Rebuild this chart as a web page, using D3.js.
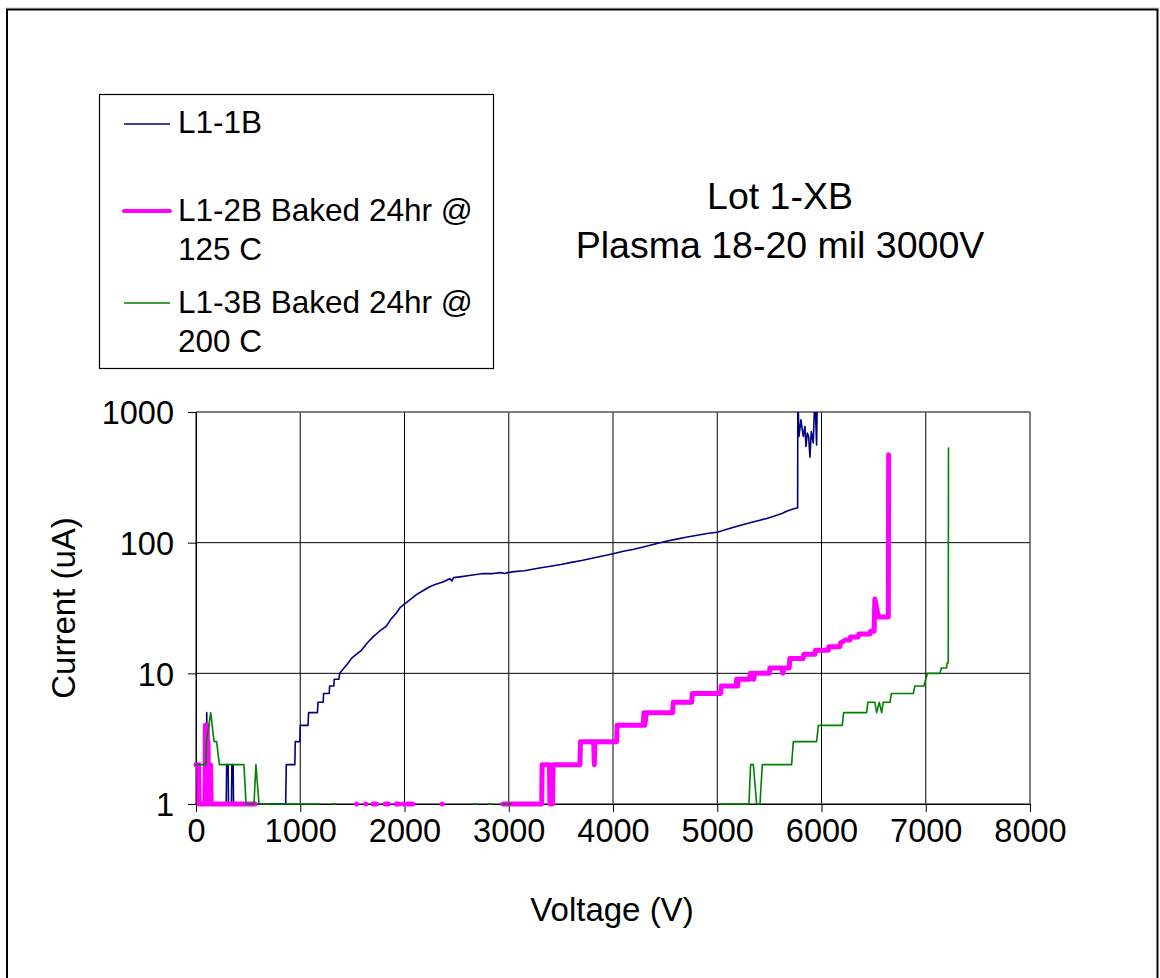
<!DOCTYPE html>
<html>
<head>
<meta charset="utf-8">
<script src="https://cdn.jsdelivr.net/npm/d3@7"></script>
<style>
  html, body { margin: 0; padding: 0; background: #fff; }
  svg { display: block; }
  text { font-family: "Liberation Sans", Arial, sans-serif; fill: #000; }
</style>
</head>
<body>
<svg id="chart" width="1160" height="978"></svg>
<script>
// Breakdown sweeps: [voltage (V), current (uA)]. A current of 0 means no reading
// above the 1 uA floor, so that point is left out of the log plot.
const l11b = [
  [0,1],[98,1],[103,5],[108,1],[290,1],[294,2],[308,2],[312,1],[340,1],[344,2],[356,2],[360,1],
  [860,1],[866,2],[948,2],[952,3],[996,3],[1000,4],[1075,4],[1080,5],[1165,5],[1170,6],
  [1220,6],[1224,7],[1278,7],[1282,8],[1322,8],[1326,9],[1370,9],[1379,10],[1420,11],[1460,12],
  [1491,13],[1540,14],[1587,15],[1640,17],[1698,19],[1760,21],[1826,23],[1870,26],[1922,29],
  [1960,32],[2002,34],[2060,37],[2114,40],[2180,43],[2241,46],[2300,48],[2369,50],[2433,53],
  [2455,51],[2470,54],[2550,55],[2620,56],[2689,57],[2760,58],[2850,58],[2920,59],[2960,58],
  [2991,59],[3050,60],[3150,61],[3295,64],[3400,66],[3500,68],[3614,71],[3700,73],[3800,76],
  [3900,79],[3991,82],[4100,86],[4200,89],[4300,93],[4413,98],[4500,102],[4600,106],[4700,110],
  [4834,115],[4920,118],[5000,120],[5100,127],[5200,134],[5314,142],[5400,148],[5474,153],
  [5550,160],[5620,167],[5666,174],[5720,180],[5762,184],[5771,184],[5773,1400],[5784,650],
  [5803,870],[5825,650],[5841,775],[5851,545],[5864,690],[5877,650],[5889,450],[5902,710],
  [5921,580],[5937,1400],[5953,560],[5960,1400]
];

const l12b = [
  [0,2],[25,2],[30,1],[86,1],[90,4],[95,1],[100,4],[104,2],[108,4],[112,1],[116,3],[120,1],
  [126,2],[130,1],[140,2],[146,1],[566,1],[600,0],
  [1541,1],[1590,0],[1630,1],[1670,0],[1700,1],[1730,1],[1770,0],[1815,1],[1845,1],[1880,0],
  [1920,1],[1945,1],[1970,0],[1990,1],[2010,0],[2030,1],[2078,1],[2200,0],[2362,1],[2500,0],
  [2945,1],[3316,1],[3320,2],[3390,2],[3395,1],[3420,1],[3425,2],[3683,2],[3688,3],[3815,3],
  [3821,2],[3827,3],[4035,3],[4040,4],[4290,4],[4297,5],[4305,4],[4320,5],[4572,5],[4578,6],
  [4754,6],[4760,7],[5032,7],[5038,8],[5180,8],[5186,9],[5195,8],[5205,9],[5310,9],[5316,10],
  [5340,10],[5350,9],[5360,10],[5500,10],[5505,11],[5620,11],[5630,10],[5640,11],[5691,11],
  [5696,13],[5825,13],[5830,14],[5937,14],[5942,15],[6065,15],[6070,16],[6177,16],[6182,17],
  [6230,18],[6273,18],[6278,19],[6353,19],[6358,20],[6465,20],[6470,21],[6505,21],[6512,37],
  [6545,27],[6641,27],[6644,470]
];

const l13b = [
  [0,2],[96,2],[100,3],[141,5],[173,3],[198,3],[224,2],[460,2],[480,1],[556,1],[575,2],[604,1],
  [1173,1],[1200,0],[1301,1],[1333,1],[1400,0],[2660,1],[2692,1],[2750,0],[2803,1],[2851,1],
  [2900,0],[2948,1],[3028,1],[3100,0],
  [5026,1],[5304,1],[5320,2],[5346,2],[5378,1],[5410,1],[5432,2],[5713,2],[5730,3],[5953,3],
  [5970,4],[6199,4],[6212,5],[6433,5],[6445,6],[6512,6],[6529,5],[6554,6],[6577,5],[6592,6],
  [6657,6],[6670,7],[6880,7],[6896,8],[6983,8],[7000,9],[7018,10],[7136,10],[7150,11],
  [7200,11],[7205,12],[7216,12],[7218,530]
];

const xTicks = [0, 1000, 2000, 3000, 4000, 5000, 6000, 7000, 8000];
const yTicks = [1, 10, 100, 1000];
const titleLines = ["Lot 1-XB", "Plasma 18-20 mil 3000V"];
const legendLabels = [
  ["L1-1B"],
  ["L1-2B Baked 24hr @", "125 C"],
  ["L1-3B Baked 24hr @", "200 C"]
];

const series = [
  { data: l11b, color: "#000080", width: 1.6 },
  { data: l12b, color: "#FF00FF", width: 5 },
  { data: l13b, color: "#008000", width: 1.6 }
];

const svg = d3.select("#chart");
const plot = { left: 196, right: 1030, top: 412, bottom: 804 };

const x = d3.scaleLinear().domain([0, 8000]).range([plot.left, plot.right]);
const y = d3.scaleLog().domain([1, 1000]).range([plot.bottom, plot.top]);

// outer frame
svg.append("line").attr("x1", 6).attr("x2", 1159).attr("y1", 8).attr("y2", 8)
  .attr("stroke", "#c8c8c8").attr("stroke-width", 1);
svg.append("rect").attr("x", 7).attr("y", 9.5).attr("width", 1150.5).attr("height", 1000)
  .attr("fill", "none").attr("stroke", "#000").attr("stroke-width", 2);

// title
svg.append("g").selectAll("text").data(titleLines).join("text")
  .attr("x", 780).attr("y", (d, i) => 209 + i * 49)
  .attr("text-anchor", "middle").style("font-size", "37.5px").text(d => d);

// grid
const grid = svg.append("g");
grid.selectAll("line.v").data(xTicks).join("line").attr("class", "v")
  .attr("x1", d => x(d)).attr("x2", d => x(d)).attr("y1", plot.top).attr("y2", plot.bottom)
  .attr("stroke", "#000").attr("stroke-width", 1);
grid.selectAll("line.h").data(yTicks).join("line").attr("class", "h")
  .attr("x1", plot.left).attr("x2", plot.right).attr("y1", d => y(d)).attr("y2", d => y(d))
  .attr("stroke", "#000").attr("stroke-width", 1);
grid.append("rect").attr("x", plot.left).attr("y", plot.top)
  .attr("width", plot.right - plot.left).attr("height", plot.bottom - plot.top)
  .attr("fill", "none").attr("stroke", "#808080").attr("stroke-width", 1);

// axes
const xAxis = d3.axisBottom(x).tickValues(xTicks).tickSize(8).tickPadding(30).tickFormat(d3.format("d"));
const gx = svg.append("g").attr("transform", `translate(0,${plot.bottom})`).call(xAxis);
gx.select(".domain").attr("d", `M${plot.left - 8},0.5H${plot.right}`).attr("stroke", "#000");
gx.selectAll("text").style("font-size", "32.5px").attr("dy", "0");

const yAxis = d3.axisLeft(y).tickValues(yTicks).tickSize(8).tickPadding(14).tickFormat(d3.format("d"));
const gy = svg.append("g").attr("transform", `translate(${plot.left},0)`).call(yAxis);
gy.select(".domain").attr("d", `M0.5,${plot.top}V${plot.bottom + 8}`).attr("stroke", "#000");
gy.selectAll("text").style("font-size", "32.5px").attr("dy", "0.36em");

// axis titles
svg.append("text").attr("x", 612).attr("y", 921).attr("text-anchor", "middle")
  .style("font-size", "33px").text("Voltage (V)");
svg.append("text").attr("transform", "translate(75,608) rotate(-90)").attr("text-anchor", "middle")
  .style("font-size", "33px").text("Current (uA)");

// series
svg.append("defs").append("clipPath").attr("id", "plotClip").append("rect")
  .attr("x", plot.left - 20).attr("y", plot.top)
  .attr("width", plot.right - plot.left + 40).attr("height", plot.bottom - plot.top + 30);

const line = d3.line().defined(d => d[1] > 0).x(d => x(d[0])).y(d => y(d[1]));
const lines = svg.append("g").attr("clip-path", "url(#plotClip)");
series.forEach(s => {
  lines.append("path").datum(s.data).attr("d", line)
    .attr("fill", "none").attr("stroke", s.color).attr("stroke-width", s.width)
    .attr("stroke-linejoin", "round").attr("stroke-linecap", "round");
});

// legend
const legend = svg.append("g");
legend.append("rect").attr("x", 99.5).attr("y", 94.5).attr("width", 394).attr("height", 274)
  .attr("fill", "#fff").attr("stroke", "#000").attr("stroke-width", 1.2);
const legendRows = [124, 211, 303];
const legendBase = [[133], [221, 260], [313, 352]];
series.forEach((s, i) => {
  legend.append("line").attr("x1", 124).attr("x2", 170)
    .attr("y1", legendRows[i]).attr("y2", legendRows[i])
    .attr("stroke", s.color).attr("stroke-width", s.width === 5 ? 4 : 1.6)
    .attr("stroke-linecap", s.width === 5 ? "round" : "butt");
  legend.append("g").selectAll("text").data(legendLabels[i]).join("text")
    .attr("x", 178).attr("y", (d, j) => legendBase[i][j])
    .style("font-size", "31.5px").text(d => d);
});
</script>
</body>
</html>
